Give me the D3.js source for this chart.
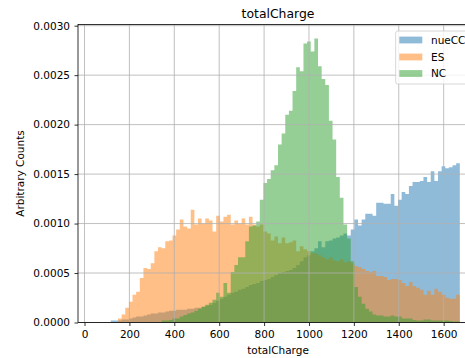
<!DOCTYPE html>
<html>
<head>
<meta charset="utf-8">
<script src="https://cdn.jsdelivr.net/npm/d3@7"></script>
<style>
  body { margin: 0; background: #fff; }
  svg { display: block; }
  text { font-family: "DejaVu Sans", sans-serif; fill: #000; }
</style>
</head>
<body>
<svg id="chart" width="465" height="358"></svg>
<script>
// Histogram binning of totalCharge: 100 equal bins starting at binStart
const binStart = 52;
const binWidth = 16.2;

// Normalised bin contents, in units of 1e-4
const UNIT = 1e-4;
const nueCC = [
  0, 0, 0, 0, 0.2, 0.2, 0.2, 0.3, 0.3, 0.4,
  0.5, 0.6, 0.6, 0.7, 0.8, 0.9, 0.9, 1.0, 1.0, 1.1,
  1.2, 1.2, 1.3, 1.3, 1.3, 1.4, 1.4, 1.5, 1.5, 1.6,
  1.7, 1.8, 2.0, 2.2, 2.4, 2.6, 2.8, 3.0, 3.1, 3.3,
  3.4, 3.6, 3.8, 3.9, 4.0, 4.2, 4.3, 4.4, 4.6, 4.8,
  5.0, 5.1, 5.2, 5.3, 5.5, 5.8, 6.2, 6.6, 6.8, 7.2,
  7.5, 8.2, 7.6, 8.2, 8.3, 8.5, 8.6, 8.8, 9.0, 8.8,
  9.4, 10.4, 9.8, 10.4, 11.0, 11.0, 10.8, 12.1, 12.1, 12.0,
  12.0, 13.0, 11.8, 12.4, 13.2, 13.0, 13.8, 14.2, 14.2, 14.3,
  14.7, 14.2, 15.3, 14.3, 15.3, 15.8, 15.6, 15.7, 15.9, 16.1
];
const ES = [
  0, 0, 0, 0, 0, 0, 0.4, 0.8, 1.5, 2.1,
  2.8, 3.1, 4.5, 5.5, 5.4, 6.0, 7.2, 7.6, 7.5, 8.2,
  8.3, 8.8, 9.4, 10.4, 9.7, 9.5, 11.4, 9.9, 10.5, 10.0,
  10.5, 10.3, 9.2, 10.8, 10.2, 10.7, 10.9, 9.9, 10.3, 10.0,
  10.5, 9.9, 10.7, 9.9, 9.7, 9.9, 9.2, 9.0, 8.3, 8.7,
  8.0, 8.6, 8.0, 8.1, 8.3, 7.2, 7.7, 7.4, 7.2, 7.0,
  7.0, 6.8, 6.6, 6.4, 6.6, 6.3, 6.2, 6.4, 6.1, 6.2,
  6.0, 5.7, 5.6, 5.4, 5.2, 5.1, 5.2, 4.7, 4.7, 4.6,
  4.3, 4.4, 4.4, 4.3, 4.0, 3.7, 4.1, 3.7, 3.5, 3.3,
  2.8, 3.2, 2.8, 3.4, 3.1, 2.8, 2.5, 2.4, 2.4, 2.8
];
const NC = [
  0, 0, 0, 0, 0, 0, 0, 0, 0, 0,
  0, 0, 0, 0, 0, 0, 0, 0, 0.2, 0.2,
  0.25, 0.4, 0.4, 0.6, 0.75, 0.9, 1.0, 1.2, 1.4, 1.6,
  1.8, 2.0, 2.3, 3.0, 2.6, 4.0, 3.0, 5.1, 5.8, 6.6,
  6.6, 8.2, 9.7, 9.8, 10.2, 12.4, 14.1, 14.5, 15.4, 15.9,
  18.0, 19.1, 21.0, 21.4, 23.4, 25.8, 25.4, 28.2, 28.4, 27.4,
  28.7, 25.9, 24.6, 24.0, 20.4, 18.5, 14.7, 12.6, 9.9, 8.5,
  6.2, 3.6, 2.6, 1.9, 1.4, 1.1, 0.8, 0.7, 0.7, 0.6,
  0.6, 0.7, 0.6, 0.6, 0.4, 0.4, 0.4, 0.25, 0.2, 0.2,
  0.3, 0.3, 0.2, 0.2, 0.2, 0.2, 0.2, 0.15, 0.1, 0.1
];

const seriesNames = ["nueCC", "ES", "NC"];
const seriesColors = ["#1f77b4", "#ff7f0e", "#2ca02c"];
const xTicks = [0, 200, 400, 600, 800, 1000, 1200, 1400, 1600];
const yTicks = [0.0000, 0.0005, 0.0010, 0.0015, 0.0020, 0.0025, 0.0030];

const svg = d3.select("#chart");
const plot = { left: 78, right: 478, top: 24.5, bottom: 322.5 };

const x = d3.scaleLinear().domain([-29, 1753]).range([plot.left, plot.right]);
const y = d3.scaleLinear().domain([0, 0.003012]).range([plot.bottom, plot.top]);

const FS = 10.5;

// step-filled histograms, drawn in order so later ones sit on top
const nBins = nueCC.length;
const edges = d3.range(nBins + 1).map(i => binStart + i * binWidth);
const area = d3.area()
  .x(d => x(d[0]))
  .y0(y(0))
  .y1(d => y(d[1]))
  .curve(d3.curveStepAfter);

[nueCC, ES, NC].forEach((vals, s) => {
  const pts = vals.map((v, i) => [edges[i], v * UNIT]);
  pts.push([edges[nBins], vals[nBins - 1] * UNIT]);
  svg.append("path")
    .attr("d", area(pts))
    .attr("fill", seriesColors[s])
    .attr("fill-opacity", 0.5);
});

// grid
const grid = svg.append("g").attr("stroke", "#b0b0b0").attr("stroke-width", 0.8);
xTicks.forEach(t => grid.append("line")
  .attr("x1", x(t)).attr("x2", x(t)).attr("y1", plot.top).attr("y2", plot.bottom));
yTicks.forEach(t => grid.append("line")
  .attr("x1", plot.left).attr("x2", plot.right).attr("y1", y(t)).attr("y2", y(t)));

// axes
const xAxis = d3.axisBottom(x).tickValues(xTicks).tickSize(3.5).tickSizeOuter(0).tickPadding(4.5)
  .tickFormat(d3.format("d"));
const gx = svg.append("g").attr("transform", `translate(0,${plot.bottom})`).call(xAxis);
const yAxis = d3.axisLeft(y).tickValues(yTicks).tickSize(3.5).tickSizeOuter(0).tickPadding(4.5)
  .tickFormat(d3.format(".4f"));
const gy = svg.append("g").attr("transform", `translate(${plot.left},0)`).call(yAxis);
[gx, gy].forEach(g => {
  g.select(".domain").remove();
  g.selectAll(".tick line").attr("stroke", "#000").attr("stroke-width", 0.8);
  g.selectAll(".tick text").attr("font-size", FS).attr("font-family", "DejaVu Sans").attr("fill", "#000");
});

// spines
const spines = svg.append("g").attr("stroke", "#000").attr("stroke-width", 0.8).attr("fill", "none");
spines.append("rect")
  .attr("x", plot.left).attr("y", plot.top)
  .attr("width", plot.right - plot.left).attr("height", plot.bottom - plot.top);

// labels
svg.append("text").attr("x", (plot.left + plot.right) / 2).attr("y", 17.7)
  .attr("text-anchor", "middle").attr("font-size", 12.4).text("totalCharge");
svg.append("text").attr("x", (plot.left + plot.right) / 2).attr("y", 353.5)
  .attr("text-anchor", "middle").attr("font-size", FS).text("totalCharge");
svg.append("text")
  .attr("transform", `translate(24,${(plot.top + plot.bottom) / 2}) rotate(-90)`)
  .attr("text-anchor", "middle").attr("font-size", FS).text("Arbitrary Counts");

// legend
const lg = svg.append("g");
lg.append("rect").attr("x", 395.7).attr("y", 31).attr("width", 90).attr("height", 53)
  .attr("rx", 2).attr("fill", "#fff").attr("fill-opacity", 0.8)
  .attr("stroke", "#cccccc").attr("stroke-width", 0.8);
const rowY = [40, 57, 73.5];
seriesNames.forEach((name, i) => {
  lg.append("rect").attr("x", 399.3).attr("y", rowY[i] - 3.4).attr("width", 23).attr("height", 6.8)
    .attr("fill", seriesColors[i]).attr("fill-opacity", 0.5);
  lg.append("text").attr("x", 431).attr("y", rowY[i] + 3.8).attr("font-size", FS).text(name);
});
</script>
</body>
</html>
